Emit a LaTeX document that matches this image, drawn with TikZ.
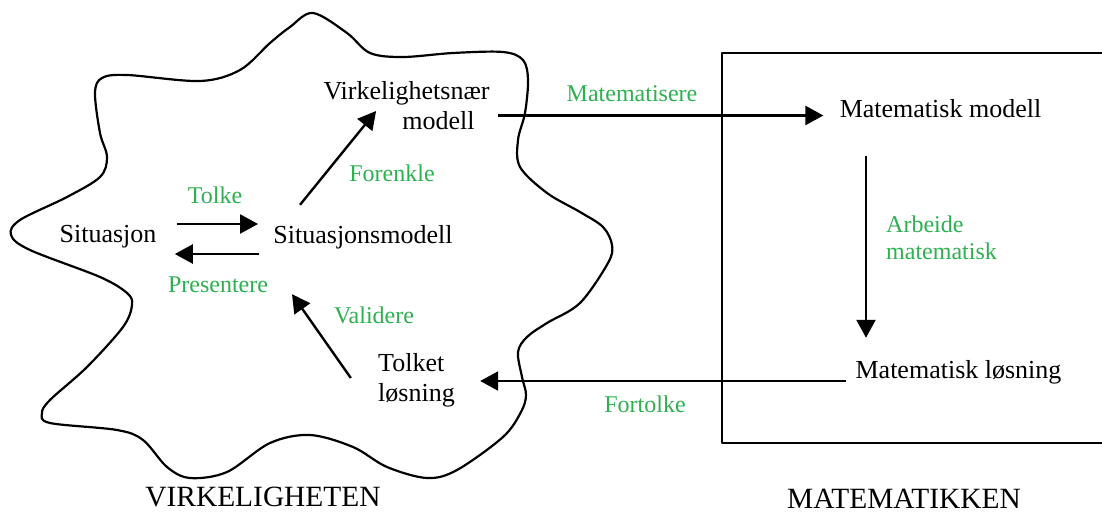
\documentclass[tikz,border=0pt]{standalone}
\usepackage{fontspec}
\setmainfont{Liberation Serif}
\usetikzlibrary{arrows.meta,calc}
\definecolor{mogreen}{RGB}{46,176,80}
\tikzset{
  moline/.style={line width=1.1pt, draw=black, line join=round},
  moarrow/.style={line width=1.2pt, draw=black, -{Triangle[length=9pt,width=9.5pt]}},
  motext/.style={inner sep=0pt, font=\fontsize{13}{15}\selectfont},
  molabel/.style={inner sep=0pt, text=mogreen, font=\fontsize{12}{13.5}\selectfont},
  motitle/.style={inner sep=0pt, font=\fontsize{14.7}{17}\selectfont},
}

\begin{document}
\begin{tikzpicture}[x=0.5pt, y=-0.5pt]
\useasboundingbox (0,0) rectangle (1102,513);

% virkeligheten (sky) and matematikken (box, open to the right)
\draw[moline] plot[smooth cycle, tension=0.55] coordinates {
  (313,13) (347,33) (370,53) (403,57) (453,53) (503,52) (523,60) (528,80)
  (525,113) (518,140) (520,167) (547,193) (580,212) (603,227) (612,245)
  (608,263) (580,303) (547,323) (527,337) (518,352) (522,377) (526,395)
  (521,412) (503,437) (457,470) (427,478) (387,467) (353,447) (310,435)
  (270,443) (227,472) (190,478) (167,467) (143,440) (117,430) (50,423)
  (42,413) (50,400) (87,367) (123,327) (132,305) (127,293) (100,277)
  (30,250) (11,235) (20,220) (67,197) (100,177) (107,157) (100,133)
  (95,93) (102,78) (127,75) (200,81) (240,70) (270,43) (290,27)};
\draw[moline] (1102,53) -- (722,53) -- (722,443) -- (1102,443);

\node[motext] (sit) at (108,237) {Situasjon};
\node[motext] (sitm) at (363,237) {Situasjonsmodell};
\node[motext, align=right] (virk) at (406.5,106) {Virkelighetsnær\\modell\hspace*{7.5pt}};
\node[motext, align=left] (tolket) at (416.5,380) {Tolket\\løsning};
\node[motext] (matmod) at (940.5,109) {Matematisk modell};
\node[motext] (matlos) at (958.5,372) {Matematisk løsning};

\node[molabel] (tolke) at (215,195) {Tolke};
\node[molabel] (presentere) at (218,285) {Presentere};
\node[molabel] (forenkle) at (392,173) {Forenkle};
\node[molabel] (validere) at (374,315) {Validere};
\node[molabel] (matematisere) at (632,94) {Matematisere};
\node[molabel, align=left] (arbeide) at (941.5,238) {Arbeide\\matematisk};
\node[molabel] (fortolke) at (645,404) {Fortolke};

\node[motitle] (virkeligheten) at (263,497) {VIRKELIGHETEN};
\node[motitle] (matematikken) at (904,499) {MATEMATIKKEN};

\draw[moarrow] ($(sit.east)+(20,-13)$) -- ($(sitm.west)+(-15,-13)$);
\draw[moarrow] ($(sitm.west)+(-14,17)$) -- ($(sit.east)+(18,17)$);
\draw[moarrow] ($(sitm.north)+(-63,-20)$) -- ($(virk.west)+(53,5)$);
\draw[moarrow] ($(virk.east)+(8,9.5)$) -- ($(matmod.west)+(-16,6.5)$);
\draw[moarrow] ($(matmod.south)+(-74.5,37)$) -- ($(matlos.north)+(-92.5,-22)$);
\draw[moarrow] ($(matlos.west)+(-9,9)$) -- ($(tolket.east)+(25,1)$);
\draw[moarrow] ($(tolket.west)+(-27,-2)$) -- ($(sitm.south)+(-71,45)$);
\end{tikzpicture}
\end{document}
